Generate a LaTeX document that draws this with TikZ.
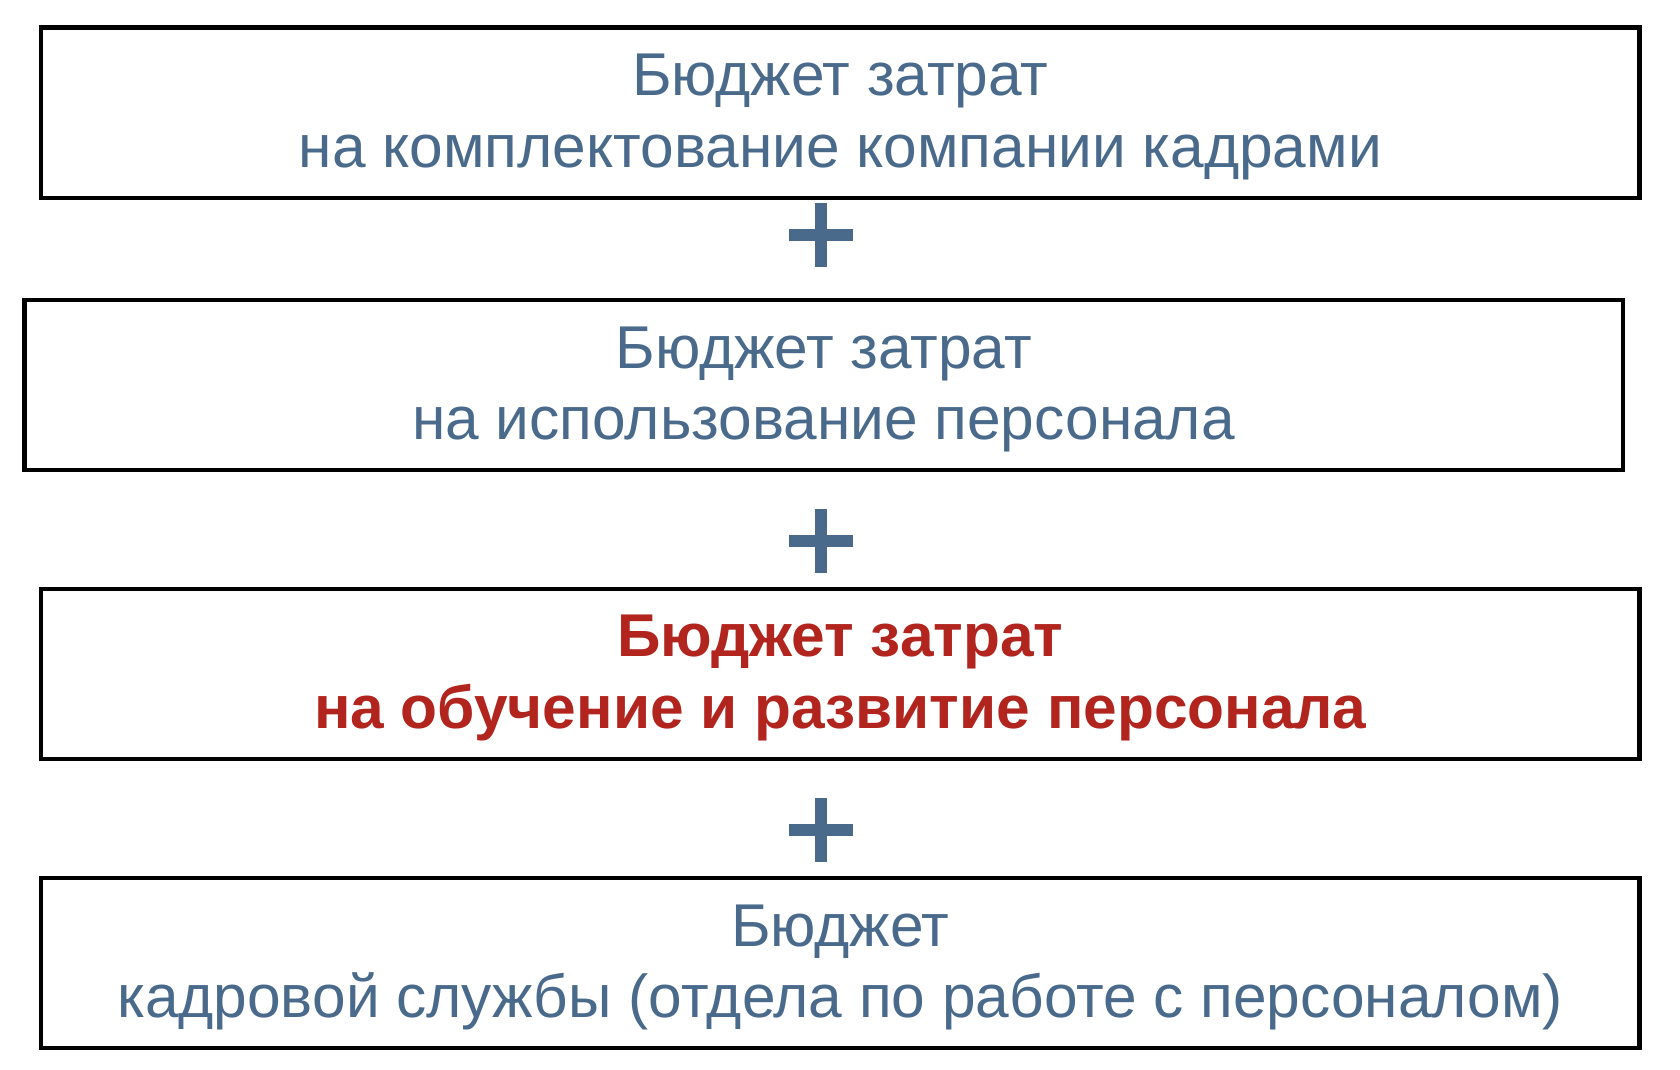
\documentclass[tikz,border=0pt]{standalone}
\usepackage{fontspec}
\setmainfont{Liberation Sans}
\definecolor{txtblue}{RGB}{74,106,140}
\definecolor{txtred}{RGB}{178,36,30}
\begin{document}
\begin{tikzpicture}[x=0.5pt,y=-0.5pt,
  budget/.style={draw=black, line width=2.3pt, fill=white, rectangle, inner sep=0pt,
    minimum width=799.3pt, minimum height=85pt},
  label/.style={inner sep=0pt, align=center, text=txtblue, yshift=-2.2pt,
    font=\fontsize{30.2}{35.75}\selectfont},
  hot/.style={text=txtred, font=\fontsize{30.2}{35.75}\selectfont\bfseries},
  plusmark/.style={inner sep=0pt, minimum size=0pt}]
\useasboundingbox (0,0) rectangle (1680,1070);
\fill[white] (0,0) rectangle (1680,1070);
\node[budget] (b1) at (840.25,112.8) {};
\node[budget] (b2) at (823.6,385) {};
\node[budget] (b3) at (840.25,673.8) {};
\node[budget] (b4) at (840.25,963) {};
\node[label] (t1) at (b1.center) {Бюджет затрат\\на комплектование компании кадрами};
\node[label] (t2) at (b2.center) {Бюджет затрат\\на использование персонала};
\node[label, hot] (t3) at (b3.center) {Бюджет затрат\\на обучение и развитие персонала};
\node[label] (t4) at (b4.center) {Бюджет\\кадровой службы (отдела по работе с персоналом)};
\foreach \n/\y in {p1/235, p2/541, p3/830} {
  \node[plusmark] (\n) at (821,\y) {};
  \fill[txtblue] ([shift={(-32,-5.75)}]\n.center) rectangle ([shift={(32,5.75)}]\n.center);
  \fill[txtblue] ([shift={(-5.75,-32)}]\n.center) rectangle ([shift={(5.75,32)}]\n.center);
}
\end{tikzpicture}
\end{document}
